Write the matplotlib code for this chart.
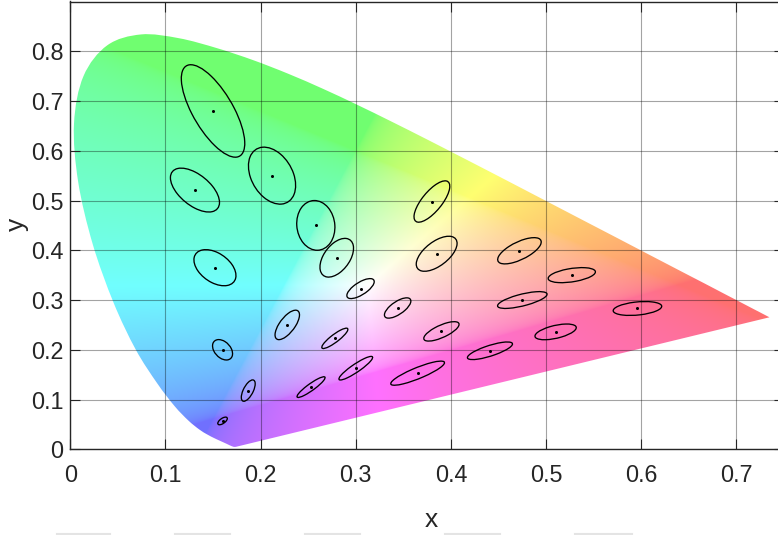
import numpy as np
import matplotlib
matplotlib.use("Agg")
import matplotlib.pyplot as plt
from matplotlib.patches import Ellipse, PathPatch
from matplotlib.path import Path
from matplotlib.lines import Line2D

# CIE 1931 2-degree spectral locus (380-700 nm, 5 nm steps)
LOCUS_X = [0.1741, 0.1740, 0.1738, 0.1736, 0.1733, 0.1730, 0.1726, 0.1721, 0.1714, 0.1703,
           0.1689, 0.1669, 0.1644, 0.1611, 0.1566, 0.1510, 0.1440, 0.1355, 0.1241, 0.1096,
           0.0913, 0.0687, 0.0454, 0.0235, 0.0082, 0.0039, 0.0139, 0.0389, 0.0743, 0.1142,
           0.1547, 0.1929, 0.2296, 0.2658, 0.3016, 0.3373, 0.3731, 0.4087, 0.4441, 0.4788,
           0.5125, 0.5448, 0.5752, 0.6029, 0.6270, 0.6482, 0.6658, 0.6801, 0.6915, 0.7006,
           0.7079, 0.7140, 0.7190, 0.7230, 0.7260, 0.7283, 0.7300, 0.7311, 0.7320, 0.7327,
           0.7334, 0.7340, 0.7344, 0.7346, 0.7347]
LOCUS_Y = [0.0050, 0.0050, 0.0049, 0.0049, 0.0048, 0.0048, 0.0048, 0.0048, 0.0051, 0.0058,
           0.0069, 0.0086, 0.0109, 0.0138, 0.0177, 0.0227, 0.0297, 0.0399, 0.0578, 0.0868,
           0.1327, 0.2007, 0.2950, 0.4127, 0.5384, 0.6548, 0.7502, 0.8120, 0.8338, 0.8262,
           0.8059, 0.7816, 0.7543, 0.7243, 0.6923, 0.6589, 0.6245, 0.5896, 0.5547, 0.5202,
           0.4866, 0.4544, 0.4242, 0.3965, 0.3725, 0.3514, 0.3340, 0.3197, 0.3083, 0.2993,
           0.2920, 0.2859, 0.2809, 0.2770, 0.2740, 0.2717, 0.2700, 0.2689, 0.2680, 0.2673,
           0.2666, 0.2660, 0.2656, 0.2654, 0.2653]

# MacAdam (1942) ellipses: centre, semi-axes (x 1e-3), orientation (deg)
ELL_X = [0.160, 0.187, 0.253, 0.150, 0.131, 0.212, 0.258, 0.152, 0.280, 0.380, 0.160, 0.228,
         0.305, 0.385, 0.472, 0.527, 0.475, 0.510, 0.596, 0.344, 0.390, 0.441, 0.278, 0.300, 0.365]
ELL_Y = [0.057, 0.118, 0.125, 0.680, 0.521, 0.550, 0.450, 0.365, 0.385, 0.498, 0.200, 0.250,
         0.323, 0.393, 0.399, 0.350, 0.300, 0.236, 0.283, 0.284, 0.237, 0.198, 0.223, 0.163, 0.153]
ELL_A = [0.85, 2.2, 2.5, 9.6, 4.7, 5.8, 5.0, 3.8, 4.0, 4.4, 2.1, 3.1,
         2.3, 3.8, 3.2, 2.6, 2.9, 2.4, 2.6, 2.3, 2.5, 2.8, 2.4, 2.9, 3.6]
ELL_B = [0.35, 0.55, 0.50, 2.3, 2.0, 2.3, 2.0, 1.9, 1.5, 1.2, 0.95, 0.90,
         0.90, 1.6, 1.4, 1.3, 1.1, 1.2, 1.3, 0.90, 1.0, 0.95, 0.55, 0.60, 0.95]
ELL_THETA = [62.5, 77, 55.5, 105, 112.5, 100, 92, 110, 75.5, 70, 104, 72,
             58, 65.5, 51, 20, 28.5, 29.5, 13, 60, 47, 34.5, 57.5, 54, 40]
MAGNIFY = 10

X_TICKS = [0, 0.1, 0.2, 0.3, 0.4, 0.5, 0.6, 0.7]
Y_TICKS = [0, 0.1, 0.2, 0.3, 0.4, 0.5, 0.6, 0.7, 0.8]

plt.rcParams['font.family'] = ['Liberation Sans', 'DejaVu Sans']

W, H = 778, 535
fig = plt.figure(figsize=(W / 100, H / 100), dpi=100)
ax = fig.add_axes([70.3 / W, (H - 449.3) / H, (784 - 70.3) / W, 447.8 / H])
XMAX, YMAX = 0.75, 0.9
ax.set_xlim(0, XMAX)
ax.set_ylim(0, YMAX)

# chromaticity colour field
nx, ny = 900, 700
gx = np.linspace(0, XMAX, nx)
gy = np.linspace(0, YMAX, ny)
XX, YY = np.meshgrid(gx, gy)
yy = np.clip(YY, 1e-3, None)
Xc = XX / yy
Yc = np.ones_like(yy)
Zc = np.clip(1 - XX - YY, 0, None) / yy
M = np.array([[3.2406, -1.5372, -0.4986],
              [-0.9689, 1.8758, 0.0415],
              [0.0557, -0.2040, 1.0570]])
XYZ = np.stack([Xc, Yc, Zc], axis=-1)
rgb = XYZ @ M.T
rgb = np.clip(rgb, 0, None)
rgb = rgb / np.clip(rgb.max(axis=-1, keepdims=True), 1e-9, None)
rgb = np.where(rgb <= 0.0031308, 12.92 * rgb, 1.055 * np.power(rgb, 1 / 2.4) - 0.055)
mix = 0.56
rgb = mix * rgb + (1 - mix) * 1.0
rgb = np.clip(rgb, 0, 1)

im = ax.imshow(rgb, extent=(0, XMAX, 0, YMAX), origin='lower', aspect='auto',
               interpolation='bilinear', zorder=0)

# smooth outline of the spectral locus (Catmull-Rom through the locus points)
P = np.column_stack([LOCUS_X, LOCUS_Y])
n = len(P)
verts = [tuple(P[0])]
codes = [Path.MOVETO]
for i in range(n - 1):
    p0 = P[max(i - 1, 0)]
    p1 = P[i]
    p2 = P[i + 1]
    p3 = P[min(i + 2, n - 1)]
    c1 = p1 + (p2 - p0) / 6.0
    c2 = p2 - (p3 - p1) / 6.0
    verts += [tuple(c1), tuple(c2), tuple(p2)]
    codes += [Path.CURVE4] * 3
verts += [tuple(P[0]), tuple(P[0])]
codes += [Path.LINETO, Path.CLOSEPOLY]
clip = PathPatch(Path(verts, codes), transform=ax.transData, facecolor='none', edgecolor='none')
ax.add_patch(clip)
im.set_clip_path(clip)

# ellipses
for ex, ey, ea, eb, et in zip(ELL_X, ELL_Y, ELL_A, ELL_B, ELL_THETA):
    e = Ellipse((ex, ey), width=2 * ea * 1e-3 * MAGNIFY, height=2 * eb * 1e-3 * MAGNIFY,
                angle=et, facecolor='none', edgecolor='black', lw=0.95, zorder=4)
    ax.add_patch(e)
ax.plot(ELL_X, ELL_Y, 'o', color='black', ms=2.2, mew=0, zorder=5)

# grid & axes styling
ax.set_xticks(X_TICKS)
ax.set_yticks(Y_TICKS)
ax.set_xticklabels([f"{v:g}" for v in X_TICKS])
ax.set_yticklabels([f"{v:g}" for v in Y_TICKS])
ax.grid(True, color='black', alpha=0.36, lw=0.8)
ax.set_axisbelow(False)
for s in ax.spines.values():
    s.set_color('#262626')
    s.set_linewidth(1.0)
    s.set_zorder(6)
ax.tick_params(axis='both', direction='in', length=7, width=0.8, color='#262626',
               labelsize=16.8, labelcolor='#262626', top=True, right=True)
ax.tick_params(axis='x', pad=10.5)
ax.tick_params(axis='y', pad=5)

fig.text(431 / W, 1 - 520 / H, 'x', ha='center', va='center', fontsize=19,
         color='#262626', family=['Liberation Sans Narrow', 'Liberation Sans'])
fig.text(17 / W, 1 - 224 / H, 'y', ha='center', va='center', fontsize=19, rotation=90,
         color='#262626', family=['Liberation Sans Narrow', 'Liberation Sans'])

# faint marks cut off at the bottom edge
for x0, x1 in [(57, 110), (175, 230), (305, 360), (445, 500), (575, 632)]:
    fig.add_artist(Line2D([x0 / W, x1 / W], [1 - 533.5 / H] * 2, transform=fig.transFigure,
                          color='#e4e4e4', lw=1.5))

fig.savefig('out.png', dpi=100)
